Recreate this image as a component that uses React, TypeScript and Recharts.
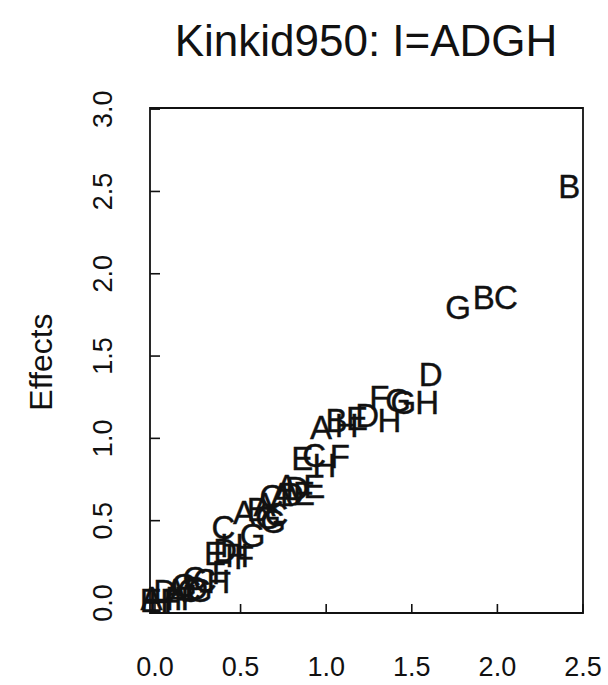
import React from "react";
import { ScatterChart, Scatter, XAxis, YAxis, ReferenceArea } from "recharts";

const pointLabels = [
  "B", "G", "B", "C", "D", "H", "F", "G", "G", "A",
  "B", "H", "E", "D", "H", "E", "C", "H", "F", "A",
  "D", "E", "C", "A", "D", "E", "A", "B", "G", "C",
  "C", "G", "E", "D", "H", "F", "E", "A", "H", "F",
  "H", "C", "D", "G", "H", "A", "F", "C", "F", "D",
  "G", "C", "A", "G", "H",
];
const xValues = [
  2.42, 1.77, 1.92, 2.05, 1.61, 1.59, 1.31, 1.42, 1.45, 0.97,
  1.06, 1.12, 1.18, 1.24, 1.37, 0.86, 0.93, 0.99, 1.08, 0.77,
  0.83, 0.93, 0.68, 0.74, 0.8, 0.87, 0.52, 0.6, 0.66, 0.71,
  0.4, 0.57, 0.35, 0.41, 0.48, 0.52, -0.025, -0.02, 0.03, 0.09,
  0.13, 0.2, 0.24, 0.26, 0.37, 0.12, 0.17, 0.29, 0.39, 0.06,
  0.17, 0.23, 0.64, 0.69, 0.45,
];
const yValues = [
  2.53, 1.8, 1.86, 1.86, 1.39, 1.22, 1.25, 1.23, 1.22, 1.07,
  1.11, 1.08, 1.12, 1.14, 1.11, 0.88, 0.9, 0.84, 0.89, 0.71,
  0.7, 0.71, 0.65, 0.66, 0.66, 0.67, 0.55, 0.57, 0.52, 0.54,
  0.46, 0.41, 0.3, 0.32, 0.29, 0.28, 0.02, 0.03, 0.02, 0.02,
  0.03, 0.08, 0.09, 0.08, 0.13, 0.08, 0.03, 0.14, 0.19, 0.07,
  0.11, 0.15, 0.6, 0.5, 0.35,
];
const xTicks = [0, 0.5, 1.0, 1.5, 2.0, 2.5];
const yTicks = [0, 0.5, 1.0, 1.5, 2.0, 2.5, 3.0];
const xDomain = [-0.029, 2.5];
const yDomain = [-0.061, 3.007];

const title = "Kinkid950: I=ADGH";
const yLabel = "Effects";

const data = pointLabels.map((label, i) => ({ x: xValues[i], y: yValues[i], label }));

const FONT = "'Liberation Sans', Arial, Helvetica, sans-serif";
const INK = "#111";

const XTick = (props: any) => {
  const { x, y, payload } = props;
  return (
    <g>
      <line x1={x} x2={x} y1={y} y2={y - 9} stroke={INK} strokeWidth={1.6} />
      <text x={x} y={y + 63} textAnchor="middle" fontSize={27} fontFamily={FONT} fill={INK}>
        {Number(payload.value).toFixed(1)}
      </text>
    </g>
  );
};

const YTick = (props: any) => {
  const { x, y, payload } = props;
  const tx = x - 38;
  return (
    <g>
      <line x1={x} x2={x + 10} y1={y} y2={y} stroke={INK} strokeWidth={1.6} />
      <text
        x={tx}
        y={y}
        transform={`rotate(-90, ${tx}, ${y})`}
        textAnchor="middle"
        fontSize={27}
        fontFamily={FONT}
        fill={INK}
      >
        {Number(payload.value).toFixed(1)}
      </text>
    </g>
  );
};

const LetterShape = (props: any) => {
  const { cx, cy, payload } = props;
  return (
    <text
      x={cx}
      y={cy}
      dy="0.36em"
      textAnchor="middle"
      fontSize={33}
      fontFamily={FONT}
      fill={INK}
      stroke={INK}
      strokeWidth={0.4}
    >
      {payload.label}
    </text>
  );
};

export default function App() {
  return (
    <div style={{ position: "absolute", left: 0, top: 0, width: 608, height: 685, background: "#fff" }}>
      <ScatterChart
        width={608}
        height={685}
        margin={{ top: 108, right: 25, bottom: 0, left: 0 }}
      >
        <XAxis
          type="number"
          dataKey="x"
          domain={xDomain}
          ticks={xTicks}
          interval={0}
          height={72}
          axisLine={false}
          tickLine={false}
          tickSize={0}
          tickMargin={0}
          tick={<XTick />}
        />
        <YAxis
          type="number"
          dataKey="y"
          domain={yDomain}
          ticks={yTicks}
          interval={0}
          width={150}
          axisLine={false}
          tickLine={false}
          tickSize={0}
          tickMargin={0}
          tick={<YTick />}
        />
        <ReferenceArea
          x1={xDomain[0]}
          x2={xDomain[1]}
          y1={yDomain[0]}
          y2={yDomain[1]}
          fill="none"
          stroke={INK}
          strokeWidth={1.8}
          ifOverflow="visible"
        />
        <Scatter data={data} isAnimationActive={false} shape={<LetterShape />} />
      </ScatterChart>
      <svg
        width={608}
        height={685}
        style={{ position: "absolute", left: 0, top: 0, pointerEvents: "none" }}
      >
        <text x={366} y={56} textAnchor="middle" fontSize={44} fontFamily={FONT} fill={INK}>
          {title}
        </text>
        <text
          x={52}
          y={362}
          transform="rotate(-90, 52, 362)"
          textAnchor="middle"
          fontSize={32}
          fontFamily={FONT}
          fill={INK}
        >
          {yLabel}
        </text>
      </svg>
    </div>
  );
}
